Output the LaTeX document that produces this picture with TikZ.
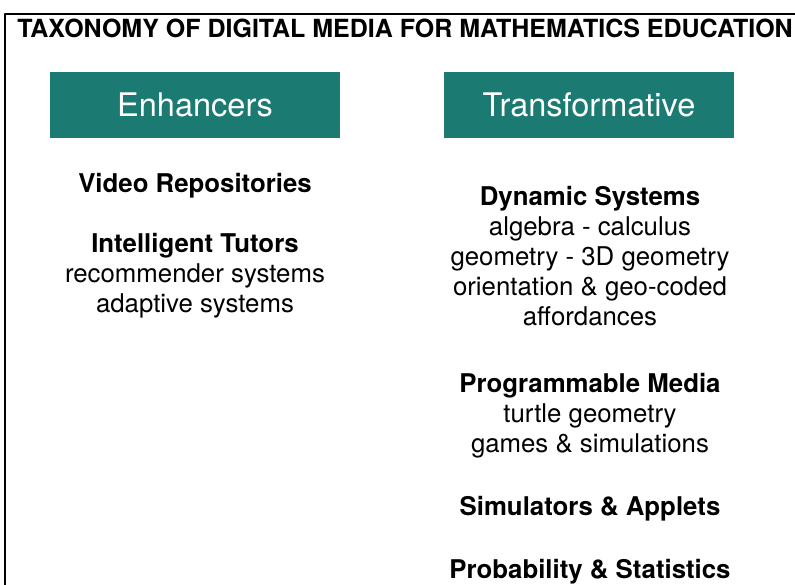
\documentclass[tikz,border=0pt]{standalone}
\usepackage{fontspec}
\setmainfont{TeX Gyre Heros}
\definecolor{mediateal}{RGB}{27,123,115}
\tikzset{
  head/.style={fill=mediateal, text=white, minimum width=290pt, minimum height=66pt, inner sep=0pt, font=\fontsize{32.5}{36}\selectfont},
  item/.style={anchor=north, align=center, inner sep=0pt, font=\fontsize{25.8}{30}\selectfont}
}
\begin{document}
\begin{tikzpicture}[x=1pt, y=-1pt, line join=round, line cap=round]
  \useasboundingbox (0,0) rectangle (795,585);
  % frame
  \draw[line width=1.8pt] (5,585) -- (5,14) -- (795,14);
  \node[anchor=base, inner sep=0pt, font=\fontsize{25}{28}\selectfont\bfseries] (title) at (405,38) {TAXONOMY OF DIGITAL MEDIA FOR MATHEMATICS EDUCATION};
  % column heads
  \node[head] (enh) at (195,105) {Enhancers};
  \node[head] (trans) at (589,105) {Transformative};
  % enhancers
  \node[item] (video) at (195,171) {\strut\textbf{Video Repositories}};
  \node[item] (tutors) at (195,231) {\strut\textbf{Intelligent Tutors}\\ \strut recommender systems\\ \strut adaptive systems};
  % transformative
  \node[item] (dynamic) at (590,184) {\strut\textbf{Dynamic Systems}\\ \strut algebra - calculus\\ \strut geometry - 3D geometry\\ \strut orientation \& geo-coded\\ \strut affordances};
  \node[item] (program) at (590,371) {\strut\textbf{Programmable Media}\\ \strut turtle geometry\\ \strut games \& simulations};
  \node[item] (simul) at (590,494) {\strut\textbf{Simulators \& Applets}};
  \node[item] (prob) at (590,557) {\strut\textbf{Probability \& Statistics}};
\end{tikzpicture}
\end{document}
